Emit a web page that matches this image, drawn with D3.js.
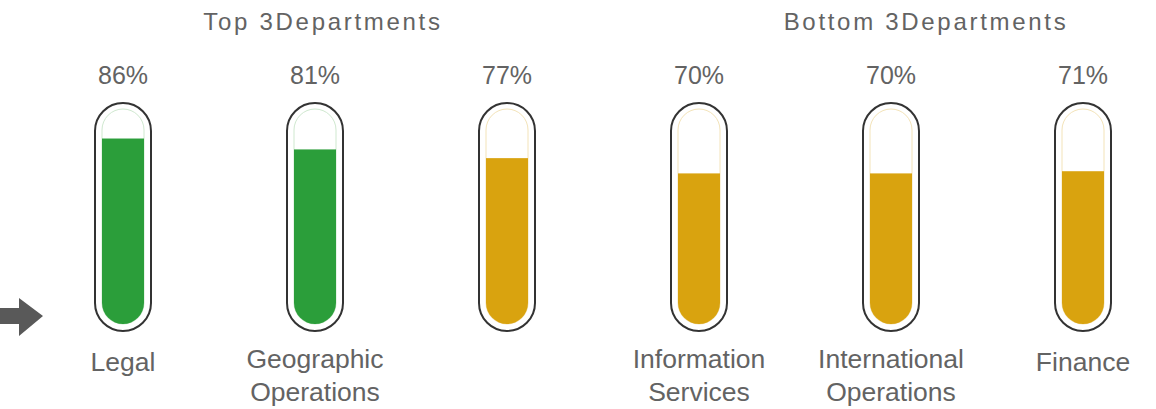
<!DOCTYPE html>
<html>
<head>
<meta charset="utf-8">
<script src="https://cdn.jsdelivr.net/npm/d3@7"></script>
<style>
  body { margin: 0; background: #fff; }
  text { font-family: Arial, "Liberation Sans", sans-serif; }
</style>
</head>
<body>
<div id="chart"></div>
<script>
// data
var departments = [["Legal"], ["Geographic", "Operations"], [""], ["Information", "Services"], ["International", "Operations"], ["Finance"]];
var scores = [86, 81, 77, 70, 70, 71];
var groups = ["Top 3Departments", "Bottom 3Departments"];

var w = 1156, h = 409;
var textColor = "#636363";

var svg = d3.select("#chart").append("svg")
    .attr("width", w)
    .attr("height", h);

// tube centres
var x = d3.scalePoint()
    .domain(d3.range(scores.length))
    .range([123, 1083]);

// fill level
var y = d3.scaleLinear()
    .domain([0, 100])
    .range([326, 108]);

var color = function(v) { return v >= 80 ? "#2b9e3a" : "#d9a30f"; };
var light = function(v) { return v >= 80 ? "#cfe8cf" : "#f3e3b8"; };

var outerW = 56, innerW = 42;
var outerTop = 103, outerBot = 331;
var innerTop = 109, innerBot = 324;

// group headers
svg.selectAll(".header")
    .data(groups)
    .enter()
    .append("text")
    .attr("x", (d, i) => i == 0 ? 323 : 926)
    .attr("y", 30)
    .attr("text-anchor", "middle")
    .style("font-size", "24px")
    .style("letter-spacing", "2.7px")
    .style("fill", textColor)
    .text(d => d);

var tube = svg.selectAll(".tube")
    .data(scores)
    .enter()
    .append("g")
    .attr("class", "tube")
    .attr("transform", (d, i) => "translate(" + x(i) + ",0)");

// clip for the liquid
tube.append("clipPath")
    .attr("id", (d, i) => "clip" + i)
    .append("rect")
    .attr("x", -innerW / 2)
    .attr("y", innerTop)
    .attr("width", innerW)
    .attr("height", innerBot - innerTop)
    .attr("rx", innerW / 2)
    .attr("ry", innerW / 2);

// outer glass
tube.append("rect")
    .attr("x", -outerW / 2)
    .attr("y", outerTop)
    .attr("width", outerW)
    .attr("height", outerBot - outerTop)
    .attr("rx", outerW / 2)
    .attr("ry", outerW / 2)
    .style("fill", "white")
    .style("stroke", "#333")
    .style("stroke-width", 2);

// inner outline
tube.append("rect")
    .attr("x", -innerW / 2)
    .attr("y", innerTop)
    .attr("width", innerW)
    .attr("height", innerBot - innerTop)
    .attr("rx", innerW / 2)
    .attr("ry", innerW / 2)
    .style("fill", "white")
    .style("stroke", d => light(d))
    .style("stroke-width", 1);

// liquid
tube.append("rect")
    .attr("clip-path", (d, i) => "url(#clip" + i + ")")
    .attr("x", -innerW / 2)
    .attr("y", d => y(d))
    .attr("width", innerW)
    .attr("height", d => innerBot - y(d))
    .style("fill", d => color(d));

// value labels
tube.append("text")
    .attr("y", 84)
    .attr("text-anchor", "middle")
    .style("font-size", "25px")
    .style("fill", textColor)
    .text(d => d + "%");

// department labels
tube.append("text")
    .attr("text-anchor", "middle")
    .style("font-size", "26.5px")
    .style("fill", textColor)
    .each(function(d, i) {
        var lines = departments[i];
        var t = d3.select(this);
        lines.forEach(function(l, j) {
            t.append("tspan")
                .attr("x", 0)
                .attr("y", (lines.length == 1 ? 371 : 368) + j * 33)
                .text(l);
        });
    });

// arrow on the left
svg.append("path")
    .attr("d", "M0,308 L19,308 L19,298 L43,316 L19,336 L19,324 L0,324 Z")
    .style("fill", "#595959");
</script>
</body>
</html>
